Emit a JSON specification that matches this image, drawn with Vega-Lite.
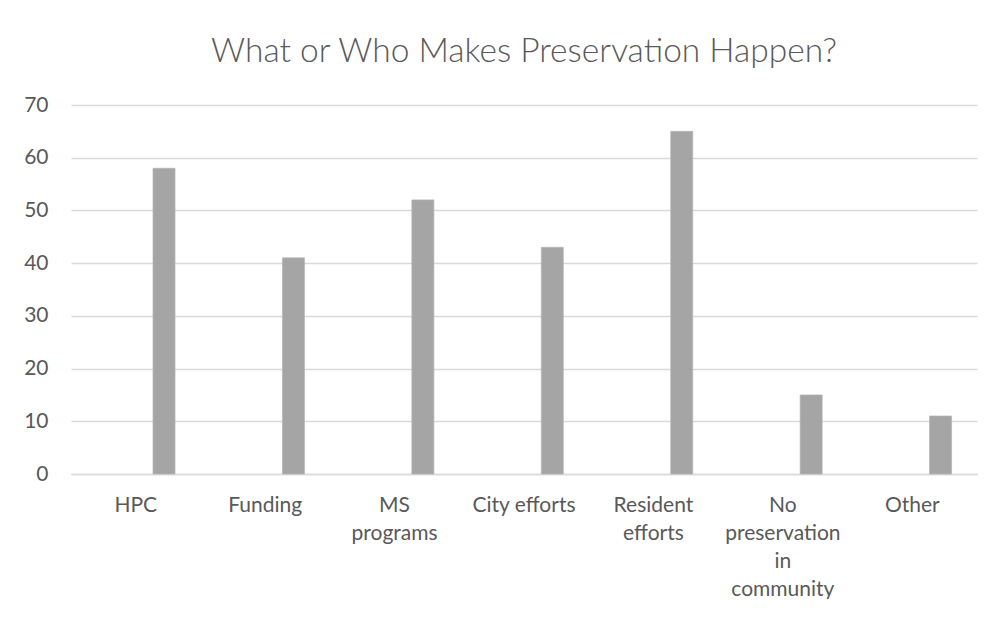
{
  "$schema": "https://vega.github.io/schema/vega-lite/v6.json",
  "width": 906,
  "height": 369,
  "padding": {"left": 0, "top": 34, "right": 19, "bottom": 0},
  "background": "white",
  "title": {
    "text": "What or Who Makes Preservation Happen?",
    "font": "Lato",
    "fontWeight": 300,
    "fontSize": 33.5,
    "color": "#595959",
    "anchor": "middle",
    "baseline": "alphabetic",
    "offset": -1
  },
  "data": {
    "values": [
      {"category": "HPC", "series": "Count", "value": 58},
      {"category": "Funding", "series": "Count", "value": 41},
      {"category": "MS programs", "series": "Count", "value": 52},
      {"category": "City efforts", "series": "Count", "value": 43},
      {"category": "Resident efforts", "series": "Count", "value": 65},
      {"category": "No preservation in community", "series": "Count", "value": 15},
      {"category": "Other", "series": "Count", "value": 11}
    ]
  },
  "mark": {"type": "bar", "color": "#a5a5a5", "stroke": "#b5b5b5", "strokeWidth": 0.7},
  "encoding": {
    "x": {
      "field": "category",
      "type": "nominal",
      "sort": null,
      "scale": {"paddingInner": 0, "paddingOuter": 0},
      "axis": {
        "title": null,
        "labelAngle": 0,
        "labelFont": "Lato",
        "labelFontSize": 21,
        "labelColor": "#595959",
        "labelPadding": 20,
        "labelLineHeight": 28,
        "labelBaseline": "top",
        "labelLimit": 200,
        "ticks": false,
        "domainColor": "#d9d9d9",
        "domainWidth": 1.5,
        "labelExpr": "datum.label == 'City efforts' ? datum.label : split(datum.label, ' ')"
      }
    },
    "xOffset": {
      "field": "series",
      "scale": {"domain": ["blank", "Count"], "paddingInner": 0.611, "paddingOuter": 0.449}
    },
    "y": {
      "field": "value",
      "type": "quantitative",
      "scale": {"domain": [0, 70]},
      "axis": {
        "title": null,
        "values": [0, 10, 20, 30, 40, 50, 60, 70],
        "labelFont": "Lato",
        "labelFontSize": 21,
        "labelColor": "#595959",
        "labelPadding": 23,
        "ticks": false,
        "domain": false,
        "gridColor": "#d9d9d9",
        "gridWidth": 1.5,
        "minExtent": 71,
        "maxExtent": 71
      }
    }
  },
  "config": {"view": {"stroke": null}}
}
